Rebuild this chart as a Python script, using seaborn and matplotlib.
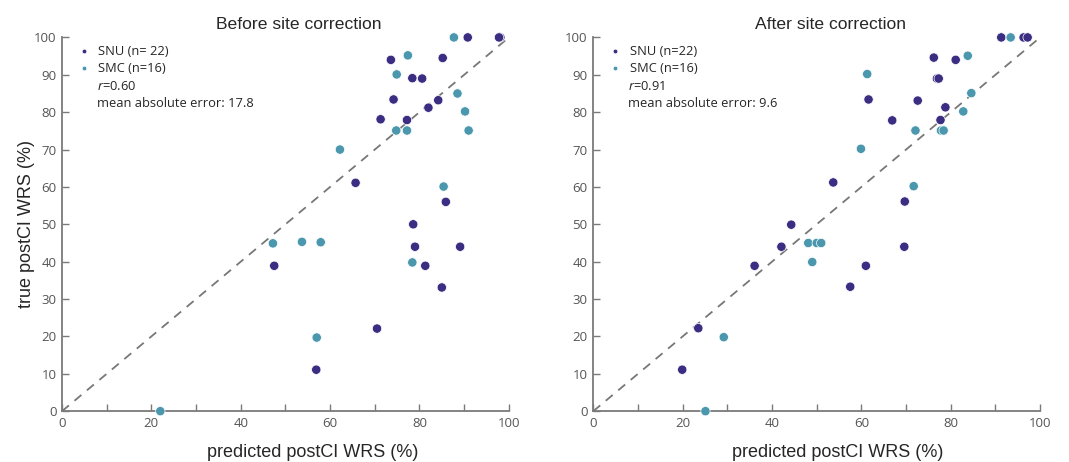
# Scatter: predicted vs true postCI WRS, before / after site correction

import numpy as np
import pandas as pd
import seaborn as sns
import matplotlib.pyplot as plt


# Dados
before_snu_x = [73.6, 85.2, 90.8, 98.1, 97.8, 78.4, 80.6, 74.2, 84.2, 82.0, 71.3, 77.2,
                65.7, 85.9, 78.6, 79.0, 89.1, 47.5, 81.3, 85.0, 70.5, 56.9]
before_snu_y = [94.0, 94.5, 100, 100, 100, 89.1, 89.0, 83.4, 83.2, 81.2, 78.1, 77.9,
                61.1, 56.0, 50.0, 44.0, 44.0, 38.9, 38.9, 33.1, 22.1, 11.1]
before_smc_x = [87.7, 77.4, 74.9, 88.5, 90.2, 74.8, 77.2, 91.0, 62.2, 85.4,
                47.2, 53.7, 57.9, 78.4, 57.0, 22.0]
before_smc_y = [100, 95.2, 90.1, 85.0, 80.2, 75.1, 75.1, 75.1, 70.0, 60.1,
                44.9, 45.3, 45.2, 39.8, 19.7, 0]

after_snu_x = [91.3, 96.3, 97.2, 76.2, 81.1, 76.9, 77.3, 61.6, 72.6, 78.8, 66.9, 77.7,
               53.7, 69.7, 44.3, 42.1, 69.6, 36.1, 61.0, 57.5, 23.5, 19.9]
after_snu_y = [100, 100, 100, 94.6, 94.0, 89.0, 89.0, 83.4, 83.1, 81.3, 77.8, 77.9,
               61.2, 56.1, 49.9, 44.0, 44.0, 38.9, 38.9, 33.3, 22.2, 11.1]
after_smc_x = [93.4, 83.8, 61.3, 84.6, 82.8, 72.1, 77.8, 78.4, 59.9, 71.7,
               48.1, 50.0, 51.0, 49.0, 29.2, 25.1]
after_smc_y = [100, 95.1, 90.2, 85.1, 80.2, 75.1, 75.1, 75.1, 70.2, 60.2,
               45.0, 45.0, 45.0, 39.9, 19.8, 0]

panels = [
    ('Before site correction', before_snu_x, before_snu_y, before_smc_x, before_smc_y,
     'SNU (n= 22)', '0.60', '17.8', 0.53, 0.56),
    ('After site correction', after_snu_x, after_snu_y, after_smc_x, after_smc_y,
     'SNU (n=22)', '0.91', '9.6', 0.53, 0.546),
]

cor_snu = '#3b2d82'
cor_smc = '#4a97ae'
cinza = '#7a7a7a'

sns.set_theme(style="white")
plt.rcParams['font.family'] = ['Liberation Sans', 'DejaVu Sans']
plt.rcParams['mathtext.fontset'] = 'custom'
plt.rcParams['mathtext.it'] = 'Open Sans:italic'
plt.rcParams['mathtext.rm'] = 'Open Sans'

fig = plt.figure(figsize=(10.69, 4.62), dpi=100)
axes = [fig.add_axes([0.058, 0.110, 0.418, 0.809]),
        fig.add_axes([0.555, 0.110, 0.418, 0.809])]

for ax, (titulo, sx, sy, mx, my, lab_snu, r, mae, tx, lx) in zip(axes, panels):
    df = pd.DataFrame({
        'pred': sx + mx,
        'true': sy + my,
        'site': [lab_snu] * len(sx) + ['SMC (n=16)'] * len(mx),
    })

    ax.plot([0, 100], [0, 100], ls=(0, (5, 4)), color='#777777', lw=1.3, zorder=1)
    sns.scatterplot(x='pred', y='true', hue='site', data=df, ax=ax,
                    palette=[cor_snu, cor_smc], s=45, edgecolor='white',
                    linewidth=0.5, clip_on=False, zorder=3)

    ax.set_xlim(0, 100)
    ax.set_ylim(0, 100)
    ax.set_xticks(np.arange(0, 101, 20))
    ax.set_xticks(np.arange(10, 100, 20), minor=True)
    ax.set_yticks(np.arange(0, 101, 10))
    ax.tick_params(axis='both', which='both', direction='in', length=5, width=1,
                   color=cinza, labelcolor='#555555', labelsize=9.5, pad=4,
                   bottom=True, left=True)
    for lbl in ax.get_xticklabels() + ax.get_yticklabels():
        lbl.set_family('Open Sans')
    for lado in ['top', 'right']:
        ax.spines[lado].set_visible(False)
    for lado in ['left', 'bottom']:
        ax.spines[lado].set_color(cinza)
        ax.spines[lado].set_linewidth(1.3)

    ax.set_title(titulo, fontsize=12.6, pad=6, x=tx)
    ax.set_xlabel('predicted postCI WRS (%)', fontsize=13, labelpad=10, x=lx)
    if ax is axes[0]:
        ax.set_ylabel('true postCI WRS (%)', fontsize=13, labelpad=-1)
    else:
        ax.set_ylabel('')

    leg = ax.legend(loc='upper left', bbox_to_anchor=(0.003, 1.0), frameon=False,
                    markerscale=0.5, fontsize=9.3, handletextpad=0.1,
                    labelspacing=0.3, borderaxespad=0.2)
    for t in leg.get_texts():
        t.set_family('Open Sans')
    ax.text(0.078, 0.869, f'$r$={r}', transform=ax.transAxes, fontsize=9.3,
            va='center', family='Open Sans')
    ax.text(0.078, 0.824, f'mean absolute error: {mae}', transform=ax.transAxes,
            fontsize=9.3, va='center', family='Open Sans')

plt.savefig('out.png', dpi=100)
